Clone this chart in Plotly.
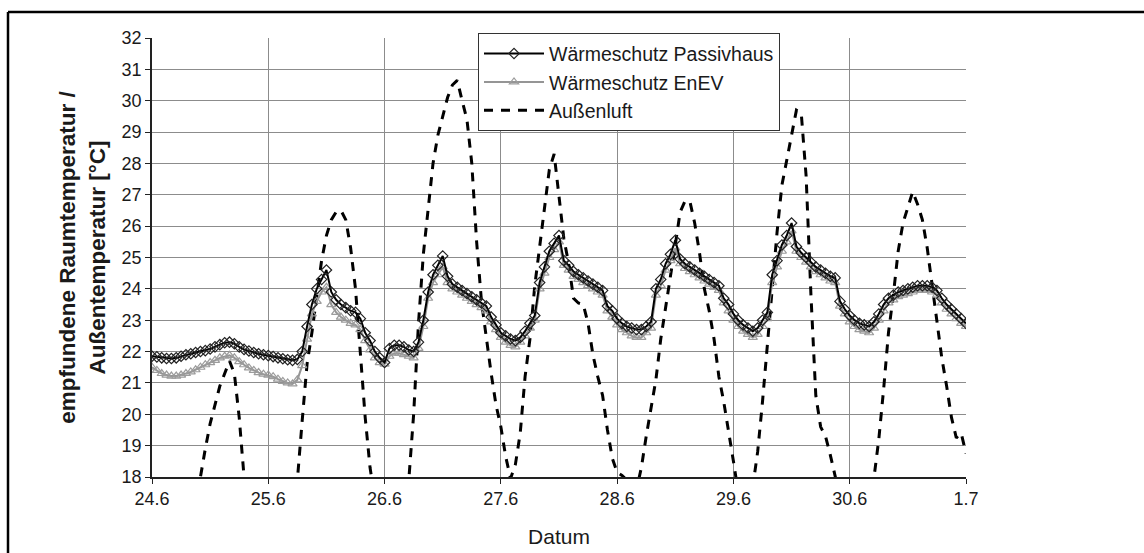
import pandas as pd
import plotly.graph_objects as go

# hourly values, 24.6. 00:00 to 1.7. 00:00 (169 points)
passivhaus = [
    21.85, 21.83, 21.80, 21.78, 21.78, 21.80, 21.85, 21.90, 21.93, 21.97, 22.00, 22.03,
    22.08, 22.15, 22.22, 22.28, 22.30, 22.25, 22.15, 22.07, 22.02, 21.97, 21.93, 21.90,
    21.87, 21.84, 21.80, 21.77, 21.74, 21.72, 21.75, 22.00, 22.80, 23.50, 24.00, 24.30,
    24.60, 23.90, 23.65, 23.50, 23.40, 23.30, 23.25, 23.05, 22.60, 22.35, 22.00, 21.80,
    21.65, 22.10, 22.20, 22.20, 22.15, 22.05, 22.00, 22.30, 23.00, 23.90, 24.45, 24.75,
    25.05, 24.40, 24.15, 24.05, 23.95, 23.85, 23.75, 23.65, 23.55, 23.45, 23.10, 22.85,
    22.60, 22.50, 22.40, 22.35, 22.45, 22.65, 22.90, 23.15, 24.20, 24.70, 25.20, 25.45,
    25.70, 24.90, 24.75, 24.55, 24.45, 24.35, 24.25, 24.15, 24.05, 23.95, 23.45, 23.30,
    23.05, 22.90, 22.80, 22.75, 22.70, 22.70, 22.80, 22.95, 24.00, 24.30, 24.80, 25.10,
    25.55, 24.95, 24.80, 24.70, 24.60, 24.50, 24.40, 24.30, 24.20, 24.10, 23.70, 23.50,
    23.20, 23.00, 22.85, 22.75, 22.65, 22.75, 23.00, 23.25, 24.45, 24.90, 25.40, 25.70,
    26.10, 25.35, 25.15, 25.00, 24.85, 24.70, 24.60, 24.50, 24.40, 24.35, 23.60, 23.35,
    23.15, 23.00, 22.90, 22.85, 22.80, 22.95, 23.20, 23.50, 23.70, 23.80, 23.90, 23.95,
    24.00, 24.05, 24.10, 24.10, 24.10, 24.05, 23.95, 23.70, 23.50, 23.35, 23.20, 23.05,
    22.90,
]

enev = [
    21.50, 21.40, 21.30, 21.25, 21.22, 21.22, 21.25, 21.30, 21.35, 21.42, 21.50, 21.58,
    21.65, 21.72, 21.80, 21.85, 21.88, 21.80, 21.68, 21.58, 21.48, 21.40, 21.33, 21.28,
    21.25, 21.20, 21.12, 21.05, 21.00, 20.97, 21.10, 21.55, 22.40, 23.20, 23.60, 23.90,
    24.05, 23.50, 23.25, 23.10, 23.00, 22.90, 22.85, 22.70, 22.35, 22.05, 21.80, 21.65,
    21.60, 21.85, 21.95, 21.95, 21.90, 21.85, 21.80, 22.10, 22.80, 23.70, 24.20, 24.45,
    24.70, 24.20, 24.00, 23.90, 23.80, 23.70, 23.60, 23.50, 23.40, 23.30, 22.95, 22.70,
    22.45, 22.30, 22.20, 22.15, 22.30, 22.50, 22.75, 23.00, 24.00, 24.50, 25.00, 25.25,
    25.50, 24.75, 24.60, 24.40, 24.30, 24.20, 24.10, 24.00, 23.90, 23.80, 23.30, 23.10,
    22.85, 22.70, 22.60, 22.50, 22.45, 22.45, 22.60, 22.75, 23.80, 24.10, 24.60, 24.90,
    25.30, 24.80, 24.65, 24.55, 24.45, 24.35, 24.25, 24.15, 24.05, 23.95, 23.55, 23.30,
    23.00, 22.80, 22.65, 22.55, 22.45, 22.55, 22.80, 23.05, 24.20, 24.70, 25.20, 25.50,
    25.85, 25.20, 25.00, 24.85, 24.70, 24.55, 24.45, 24.35, 24.25, 24.20, 23.45, 23.20,
    22.95, 22.80, 22.70, 22.65, 22.60, 22.75, 23.00, 23.30, 23.55, 23.65, 23.75, 23.80,
    23.85, 23.90, 23.95, 23.95, 23.95, 23.90, 23.80, 23.55, 23.35, 23.20, 23.05, 22.90,
    22.80,
]

aussenluft = [
    15.5, 15.0, 14.6, 14.3, 14.2, 14.5, 15.2, 16.0, 16.8, 17.5, 18.0, 18.9,
    19.7, 20.3, 20.9, 21.3, 21.7, 21.3, 19.9, 18.0, 16.5, 15.8, 15.2, 14.8,
    14.5, 14.2, 14.0, 13.9, 14.0, 15.0, 17.9, 19.8, 21.6, 22.6, 23.8, 24.9,
    25.7, 26.2, 26.45, 26.5, 26.2, 25.3, 24.0, 22.0, 19.9, 18.3, 17.2, 16.3,
    15.5, 15.0, 14.8, 15.0, 16.5, 17.9, 20.0, 22.9, 25.1, 26.5, 28.0, 28.9,
    29.5, 30.1, 30.5, 30.65, 30.0, 29.4, 28.0, 25.5, 23.6, 22.4, 21.3, 20.3,
    19.6, 18.65, 17.95, 18.4, 19.4, 21.2, 22.4, 24.1, 25.4, 26.7, 27.8, 28.3,
    27.0, 25.6, 24.8, 23.7, 23.55, 23.5, 22.9, 21.9, 21.2, 20.6, 19.5, 18.6,
    18.15, 18.05, 17.9, 17.7, 17.6, 18.3, 19.3, 20.2, 21.1, 22.4, 23.35, 24.4,
    25.4, 26.45, 26.8, 26.8, 26.1, 25.15, 24.0, 23.3, 22.4, 21.2, 20.4, 19.5,
    18.5, 17.5, 16.8, 16.3, 17.7, 18.8, 20.4, 22.2, 24.2, 25.8, 27.3, 28.1,
    28.9, 29.7, 29.6, 27.6, 23.8, 20.6, 19.6, 19.3, 18.7, 18.0, 17.3, 16.6,
    16.0, 15.6, 15.3, 15.5, 16.8, 18.1, 19.2, 20.8, 22.6, 23.8, 25.2, 26.1,
    26.6, 27.1, 26.7, 26.2, 25.3, 24.1, 22.9, 21.8, 20.9, 19.9, 19.25, 19.4,
    18.75,
]

tick_labels = ["24.6", "25.6", "26.6", "27.6", "28.6", "29.6", "30.6", "1.7"]
names = ["Wärmeschutz Passivhaus", "Wärmeschutz EnEV", "Außenluft"]

zeit = pd.date_range("2003-06-24", periods=len(passivhaus), freq="h")
tick_dates = pd.date_range("2003-06-24", periods=len(tick_labels), freq="D")

FONT = "Liberation Sans, Arial, sans-serif"

fig = go.Figure()
fig.add_trace(go.Scatter(
    x=zeit, y=aussenluft, name=names[2], mode="lines", legendrank=3,
    line=dict(color="black", width=3, dash="9px,8px"),
))
fig.add_trace(go.Scatter(
    x=zeit, y=enev, name=names[1], mode="lines+markers", legendrank=2,
    line=dict(color="#959595", width=2),
    marker=dict(symbol="triangle-up-open", size=8, color="#9c9c9c", line=dict(width=1.2)),
))
fig.add_trace(go.Scatter(
    x=zeit, y=passivhaus, name=names[0], mode="lines+markers", legendrank=1,
    line=dict(color="black", width=2),
    marker=dict(symbol="diamond-open", size=8, color="#222222", line=dict(width=1.2)),
))

grid = "#8c8c8c"
fig.update_layout(
    width=1144, height=553,
    margin=dict(l=152, r=178, t=38, b=76),
    paper_bgcolor="white", plot_bgcolor="white",
    font=dict(family=FONT, size=18, color="#1a1a1a"),
    showlegend=True,
    legend=dict(
        x=0.4005, y=1.0105, xanchor="left", yanchor="top",
        bgcolor="white", bordercolor="#333333", borderwidth=1,
        font=dict(size=19.5), itemwidth=60,
    ),
    xaxis=dict(
        range=[tick_dates[0], tick_dates[-1]],
        tickvals=tick_dates, ticktext=tick_labels,
        showgrid=True, gridcolor=grid, gridwidth=1,
        showline=True, linecolor="#222222", linewidth=1.5,
        ticks="outside", ticklen=5, tickcolor="#222222",
        title=dict(text="Datum", standoff=21, font=dict(size=21)),
        zeroline=False, automargin=False,
    ),
    yaxis=dict(
        range=[18, 32], dtick=1, tick0=18,
        showgrid=True, gridcolor=grid, gridwidth=1,
        showline=True, linecolor="#222222", linewidth=1.5,
        ticks="outside", ticklen=5, tickcolor="#222222",
        title=dict(text="<b>empfundene Raumtemperatur /<br>Außentemperatur [°C]</b>",
                   standoff=10, font=dict(size=22.5)),
        zeroline=False, automargin=False,
    ),
    shapes=[
        dict(type="line", xref="paper", yref="paper", x0=-0.1769, x1=-0.1769, y0=1.059, y1=-0.2,
             line=dict(color="black", width=2.5)),
        dict(type="line", xref="paper", yref="paper", x0=-0.1769, x1=1.25, y0=1.059, y1=1.059,
             line=dict(color="black", width=2.5)),
    ],
)

fig.write_html(
    "out.html",
    config={"displayModeBar": False},
    post_script="document.body.style.margin='0';document.body.style.overflow='hidden';",
)
